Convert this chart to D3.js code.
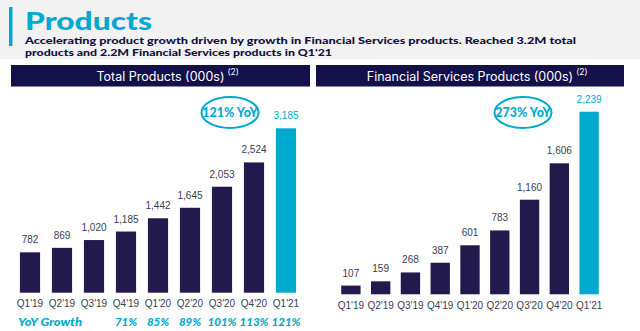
<!DOCTYPE html>
<html><head><meta charset="utf-8">
<script src="https://cdn.jsdelivr.net/npm/d3@7"></script>
<style>body{margin:0;background:#fff}svg{display:block}</style>
</head><body>
<svg id="c" width="640" height="331"></svg>
<script>
const quarters = ["Q1'19","Q2'19","Q3'19","Q4'19","Q1'20","Q2'20","Q3'20","Q4'20","Q1'21"];
const totalProducts = [782,869,1020,1185,1442,1645,2053,2524,3185];
const financialProducts = [107,159,268,387,601,783,1160,1606,2239];
const yoyGrowth = [null,null,null,"71%","85%","89%","101%","113%","121%"];
const titleText = "Products";
const subtitleLines = ["Accelerating product growth driven by growth in Financial Services products. Reached 3.2M total","products and 2.2M Financial Services products in Q1'21"];

const NAVY = "#221a4c", HEAD = "#14104a", CYAN = "#00aacf", TXT = "#3e3b52";
const svg = d3.select("#c");

// top band
svg.append("rect").attr("x",0).attr("y",0).attr("width",640).attr("height",59).attr("fill","#f2f2f2");
svg.append("rect").attr("x",9).attr("y",7).attr("width",3.5).attr("height",39).attr("fill",CYAN);
svg.append("text").attr("x",25).attr("y",29.5).text(titleText)
  .attr("font-family","Lato").attr("font-weight",900).attr("font-size",25)
  .attr("fill",CYAN).attr("textLength",127).attr("lengthAdjust","spacingAndGlyphs");
const subLen=[551,307];
subtitleLines.forEach((s,i)=>{
  svg.append("text").attr("x",25).attr("y",44+i*11.5).text(s)
   .attr("font-family","Lato").attr("font-weight",900).attr("font-size",9.5)
   .attr("fill","#15113f").attr("textLength",subLen[i]).attr("lengthAdjust","spacingAndGlyphs");
});

function panel(cfg){
  const g = svg.append("g");
  g.append("rect").attr("x",cfg.hx).attr("y",65).attr("width",cfg.hw).attr("height",21.5).attr("fill",HEAD);
  const t = g.append("text").attr("x",cfg.hx+cfg.hw/2).attr("y",80.5).attr("text-anchor","middle")
    .attr("font-family","Inter").attr("font-size",12.5).attr("fill","#fff");
  t.append("tspan").text(cfg.header);
  const sup = g.append("text").attr("y",74.5).attr("font-family","Inter").attr("font-size",8.5).attr("fill","#fff").text("(2)");
  const bb = t.node().getBBox();
  sup.attr("x",bb.x+bb.width+3);

  const x = d3.scaleBand().domain(quarters).range(cfg.xr).paddingInner(cfg.pad).paddingOuter(cfg.pad/2);
  const y = d3.scaleLinear().domain([0,cfg.max]).range([cfg.base,cfg.top]);
  const last = quarters[quarters.length-1];
  g.selectAll(".bar").data(cfg.values).join("rect")
    .attr("x",(d,i)=>x(quarters[i])).attr("width",x.bandwidth())
    .attr("y",d=>y(d)).attr("height",d=>y(0)-y(d))
    .attr("fill",(d,i)=>quarters[i]===last?CYAN:NAVY);
  g.selectAll(".val").data(cfg.values).join("text")
    .attr("x",(d,i)=>x(quarters[i])+x.bandwidth()/2).attr("y",d=>y(d)-9)
    .attr("text-anchor","middle").attr("font-family","Liberation Sans").attr("font-size",10)
    .attr("fill",(d,i)=>quarters[i]===last?CYAN:TXT).text(d=>d3.format(",")(d));
  const ax = g.append("g").attr("transform",`translate(0,${cfg.base})`)
    .call(d3.axisBottom(x).tickSize(0).tickPadding(6));
  ax.select(".domain").remove();
  ax.selectAll("text").attr("font-family","Liberation Sans").attr("font-size",10).attr("fill",TXT).attr("dy","0.85em");
  // ellipse
  g.append("ellipse").attr("cx",cfg.ex).attr("cy",112.5).attr("rx",28.5).attr("ry",15.5)
    .attr("fill","none").attr("stroke",CYAN).attr("stroke-width",2);
  g.append("text").attr("x",cfg.ex).attr("y",117).attr("text-anchor","middle")
    .attr("font-family","Lato").attr("font-weight",900).attr("font-size",12.5).attr("fill",CYAN).text(cfg.yoy);
  return x;
}

const x1 = panel({header:"Total Products (000s)",hx:11,hw:299,xr:[14,302],pad:0.37,base:292.7,top:128.3,max:3185,values:totalProducts,ex:230,yoy:"121% YoY"});
panel({header:"Financial Services Products (000s)",hx:316,hw:308,xr:[336,604],pad:0.35,base:294.3,top:111.7,max:2239,values:financialProducts,ex:523,yoy:"273% YoY"});

// YoY growth row
svg.append("text").attr("x",18).attr("y",325.5).text("YoY Growth")
  .attr("font-family","Lato").attr("font-weight",900).attr("font-style","italic").attr("font-size",12)
  .attr("fill",CYAN).attr("textLength",64).attr("lengthAdjust","spacingAndGlyphs");
svg.selectAll(".yoy").data(yoyGrowth).join("text")
  .attr("x",(d,i)=>x1(quarters[i])+x1.bandwidth()/2).attr("y",325.5).attr("text-anchor","middle")
  .attr("font-family","Lato").attr("font-weight",900).attr("font-style","italic").attr("font-size",11.5)
  .attr("fill",CYAN).text(d=>d||"");
</script>
</body></html>
